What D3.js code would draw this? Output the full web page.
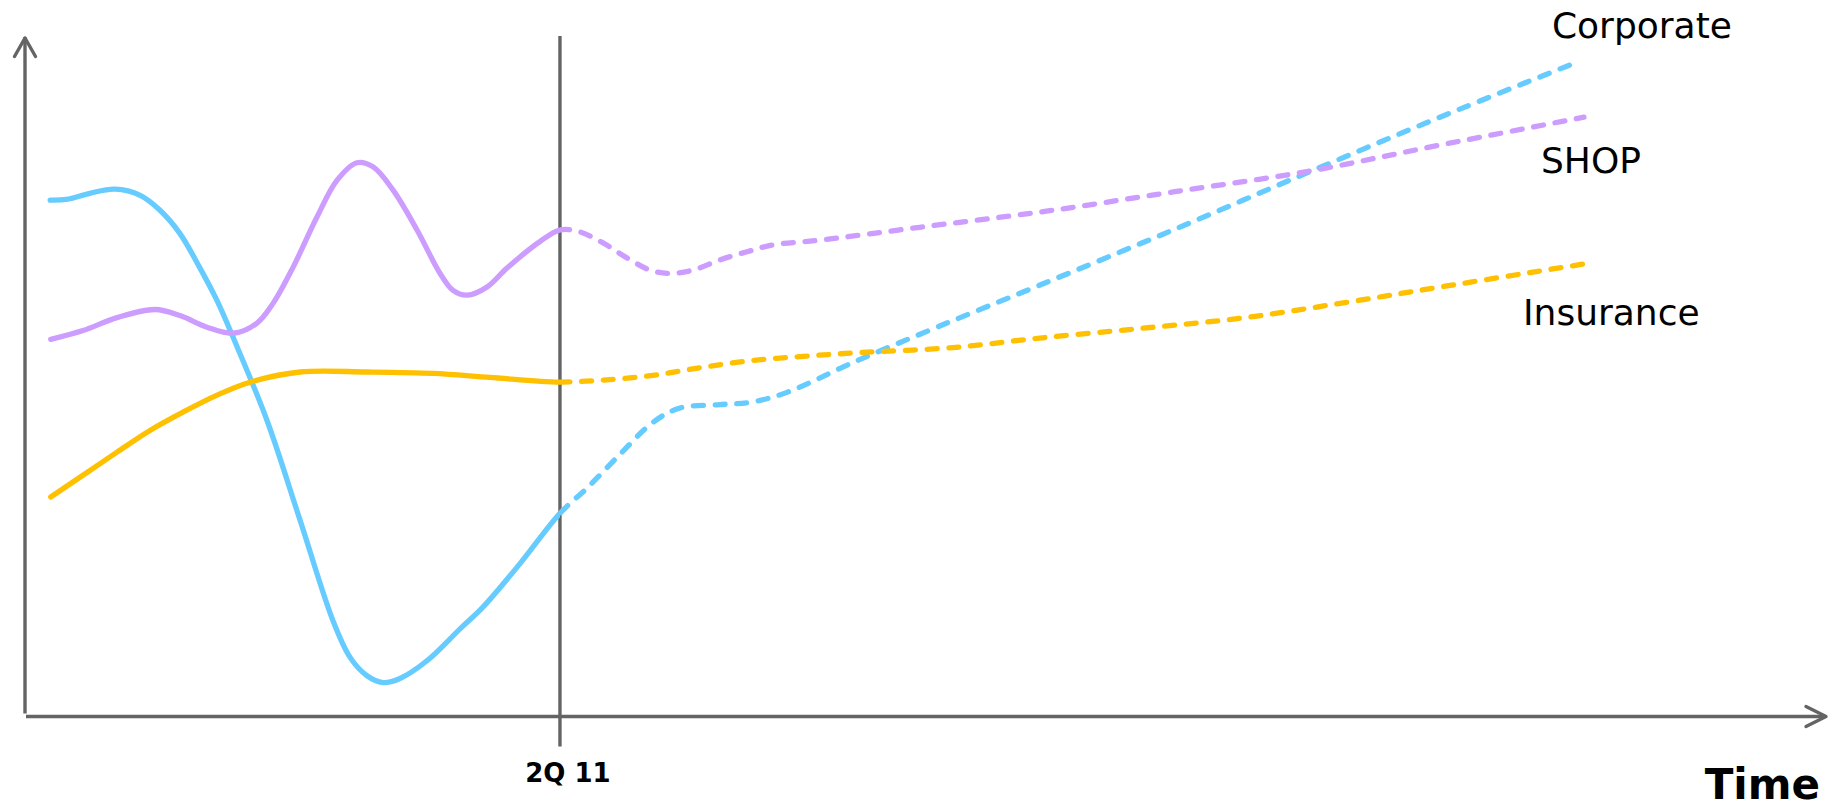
<!DOCTYPE html>
<html>
<head>
<meta charset="utf-8">
<script src="https://cdn.jsdelivr.net/npm/d3@7"></script>
<style>
  html, body { margin: 0; padding: 0; background: #ffffff; }
  svg { display: block; }
</style>
</head>
<body>
<svg id="chart" width="1839" height="802"></svg>
<script>
// Series names and colours
const seriesNames = ["Corporate", "SHOP", "Insurance"];
const seriesColors = ["#66CCFF", "#CC9CFF", "#FFC000"];

// [time, value] pairs; time and value both on a 0-100 scale
const corporate = [
  [1.4, 76.0], [2.3, 76.1], [3.6, 77.0], [5.0, 77.6], [6.4, 76.7], [7.5, 74.5],
  [8.6, 71.1], [9.7, 66.1], [10.65, 61.3], [11.56, 55.8], [13.44, 43.6],
  [15.28, 28.9], [17.11, 14.1], [18.06, 8.7], [19.0, 6.0],
  [19.89, 5.0], [20.83, 5.6], [22.33, 8.2], [24.17, 12.9], [25.44, 16.1], [27.5, 22.5],
  [29.72, 29.9], [31.22, 33.6], [33.06, 38.6], [34.89, 43.3], [36.39, 45.4],
  [38.61, 45.9], [40.44, 46.3], [42.33, 47.7], [46.0, 52.1],
  [50.67, 57.3], [56.39, 63.5], [63.78, 71.6],
  [71.22, 80.0], [78.61, 88.2], [86.22, 96.3]
];

const shop = [
  [1.43, 55.5], [3.22, 56.8], [5.11, 58.7], [7.22, 59.9], [8.61, 59.0], [10.11, 57.3],
  [11.56, 56.4], [12.89, 57.9], [13.78, 60.8], [14.89, 66.1], [16.22, 73.5], [17.33, 78.9],
  [18.44, 81.5], [19.33, 80.9], [20.44, 77.5], [21.78, 71.6], [23.06, 65.2], [23.78, 62.7],
  [24.56, 62.0], [25.67, 63.2], [26.78, 66.0], [28.61, 69.9], [29.72, 71.6],
  [30.83, 71.3], [32.11, 69.7], [33.44, 67.5], [34.72, 65.7], [35.83, 65.2], [37.11, 65.7],
  [38.61, 67.2], [40.11, 68.4], [41.56, 69.4], [44.17, 70.1], [49.72, 72.0],
  [56.56, 74.3], [63.78, 77.2], [71.22, 80.2],
  [78.61, 84.1], [86.61, 88.2]
];

const insurance = [
  [1.43, 32.3], [3.22, 35.5], [5.11, 38.9], [6.94, 42.1], [8.78, 44.8], [10.67, 47.3],
  [12.5, 49.2], [15.28, 50.7], [19.0, 50.7], [22.67, 50.5], [25.83, 49.9],
  [29.72, 49.2], [32.11, 49.5], [34.89, 50.2], [37.67, 51.4], [40.44, 52.4], [43.22, 53.0],
  [46.0, 53.5], [51.56, 54.3], [56.39, 55.7], [61.94, 57.1], [67.5, 58.6],
  [73.06, 60.8], [78.61, 63.2], [86.61, 66.6]
];

// Actuals end / projections start here
const markerTime = 29.72;
const markerLabel = "2Q 11";
const xAxisTitle = "Time";

const seriesData = [corporate, shop, insurance];

const svg = d3.select("#chart");
const W = 1839, H = 802;

const x = d3.scaleLinear().domain([0, 100]).range([25, 1825]);
const y = d3.scaleLinear().domain([0, 100]).range([716.5, 37]);

const axisColor = "#646464";
const mx = x(markerTime);

// Clip regions: solid before the marker, dashed after it
const defs = svg.append("defs");
defs.append("clipPath").attr("id", "clip-solid")
  .append("rect").attr("x", 0).attr("y", 0).attr("width", mx).attr("height", H);
defs.append("clipPath").attr("id", "clip-dashed")
  .append("rect").attr("x", mx).attr("y", 0).attr("width", W - mx).attr("height", H);

// Axes drawn as arrows
const axes = svg.append("g").attr("stroke", axisColor).attr("fill", "none")
  .attr("stroke-width", 3.4).attr("stroke-linecap", "round").attr("stroke-linejoin", "round");

const x0 = x(0), y0 = y(0);
// vertical axis
axes.append("line").attr("x1", x0).attr("x2", x0).attr("y1", y0 - 3).attr("y2", y(100))
  .attr("stroke-linecap", "butt");
axes.append("path").attr("d", d3.line()([[x0 - 10.5, y(100) + 19.5], [x0, y(100) + 1], [x0 + 10.5, y(100) + 19.5]]));
// horizontal axis
axes.append("line").attr("x1", x0 + 1).attr("x2", x(100)).attr("y1", y0).attr("y2", y0)
  .attr("stroke-linecap", "butt");
axes.append("path").attr("d", d3.line()([[x(100) - 19, y0 - 10], [x(100) + 1, y0], [x(100) - 19, y0 + 10]]));

// marker line at the split time
svg.append("line")
  .attr("x1", mx).attr("x2", mx)
  .attr("y1", y(100) - 1).attr("y2", y0 + 30)
  .attr("stroke", axisColor).attr("stroke-width", 3.4);

svg.append("text")
  .attr("x", mx + 8).attr("y", y0 + 65.5)
  .attr("text-anchor", "middle")
  .attr("font-family", "DejaVu Sans, Verdana, sans-serif")
  .attr("font-weight", "bold").attr("font-size", 26)
  .attr("fill", "#000")
  .text(markerLabel);

svg.append("text")
  .attr("x", 1820).attr("y", 799)
  .attr("text-anchor", "end")
  .attr("font-family", "DejaVu Sans, Verdana, sans-serif")
  .attr("font-weight", "bold").attr("font-size", 42)
  .attr("fill", "#000")
  .text(xAxisTitle);

// Lines
const line = d3.line()
  .x(d => x(d[0]))
  .y(d => y(d[1]))
  .curve(d3.curveCatmullRom.alpha(0.5));

const lines = svg.append("g").attr("fill", "none").attr("stroke-width", 5.3);

seriesData.forEach((data, i) => {
  lines.append("path")
    .attr("d", line(data))
    .attr("stroke", seriesColors[i])
    .attr("stroke-linecap", "round")
    .attr("clip-path", "url(#clip-solid)");
  // projected part, dashed from the marker onward
  lines.append("path")
    .attr("d", line(data.filter(d => d[0] >= markerTime - 3)))
    .attr("stroke", seriesColors[i])
    .attr("stroke-linecap", "round")
    .attr("stroke-dasharray", "10 11.7")
    .attr("clip-path", "url(#clip-dashed)");
});

// Series labels placed near the line ends
const labelOffsets = [[-25, -24], [-43, 56], [-61, 61]];
seriesData.forEach((data, i) => {
  const last = data[data.length - 1];
  svg.append("text")
    .attr("x", x(last[0]) + labelOffsets[i][0])
    .attr("y", y(last[1]) + labelOffsets[i][1])
    .attr("font-family", "DejaVu Sans, Verdana, sans-serif")
    .attr("font-size", 36)
    .attr("fill", "#000")
    .text(seriesNames[i]);
});
</script>
</body>
</html>
